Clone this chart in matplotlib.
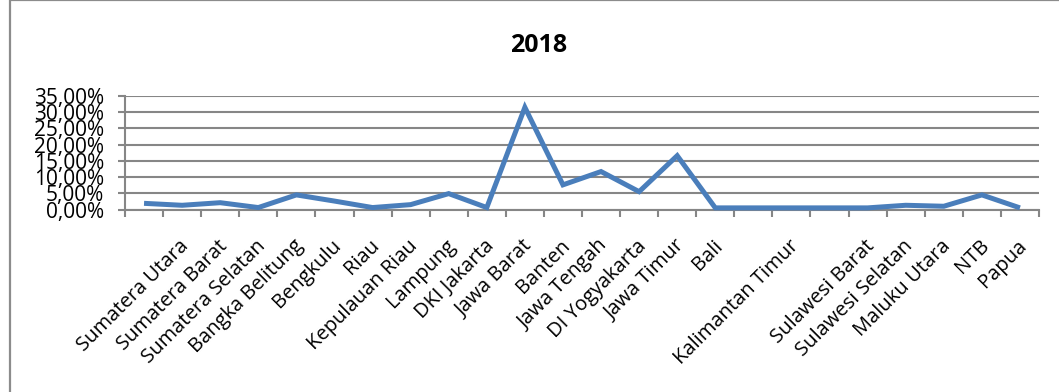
import matplotlib
matplotlib.use("Agg")
import matplotlib.pyplot as plt
import matplotlib.patches as mpatches
import matplotlib.transforms as mtransforms
from matplotlib.ticker import FixedLocator, FuncFormatter

# Provinces along the x axis (blank entries carry no printed label)
provinces = [
    "", "Sumatera Utara", "Sumatera Barat", "Sumatera Selatan",
    "Bangka Belitung", "Bengkulu", "Riau", "Kepulauan Riau", "Lampung",
    "DKI Jakarta", "Jawa Barat", "Banten", "Jawa Tengah", "DI Yogyakarta",
    "Jawa Timur", "Bali", "", "Kalimantan Timur", "", "Sulawesi Barat",
    "Sulawesi Selatan", "Maluku Utara", "NTB", "Papua",
]

# Share per province in 2018 (fractions)
share_2018 = [
    0.019, 0.013, 0.021, 0.006, 0.045, 0.026, 0.006, 0.015, 0.049,
    0.006, 0.315, 0.076, 0.117, 0.055, 0.166, 0.005, 0.005, 0.005,
    0.005, 0.005, 0.013, 0.010, 0.045, 0.005,
]

y_ticks = [0.0, 0.05, 0.10, 0.15, 0.20, 0.25, 0.30, 0.35]
title = "2018"

W, H = 1059, 392
fig = plt.figure(figsize=(W / 100, H / 100), dpi=100)
fig.patch.set_facecolor("white")

FONT = "Open Sans"
GRID = "#868686"
LINE = "#4a7ebb"

# Outer chart frame (runs off the right and bottom edges)
frame = mpatches.Rectangle((10 / W, 1 - 395 / H), 1070 / W, 395 / H,
                           transform=fig.transFigure, fill=False,
                           edgecolor="#8c8c8c", linewidth=1.6, clip_on=False)
fig.patches.append(frame)

ax = fig.add_axes([125 / W, 1 - 209.5 / H, 914 / W, 113.5 / H])
x = list(range(len(provinces)))
ax.plot(x, share_2018, color=LINE, linewidth=3.6, solid_joinstyle="miter",
        solid_capstyle="butt", zorder=3, clip_on=False)

ax.set_xlim(-0.5, len(provinces) - 0.5)
ax.set_ylim(y_ticks[0], y_ticks[-1])

# Horizontal gridlines
ax.yaxis.set_major_locator(FixedLocator(y_ticks))
ax.yaxis.set_major_formatter(
    FuncFormatter(lambda v, p: f"{v * 100:.2f}%".replace(".", ",")))
ax.grid(axis="y", color=GRID, linewidth=1.5, zorder=1)
ax.grid(axis="x", visible=False)

for side in ("top", "right"):
    ax.spines[side].set_visible(False)
for side in ("left", "bottom"):
    ax.spines[side].set_color(GRID)
    ax.spines[side].set_linewidth(1.5)

# Category labels at centres, tick marks at category boundaries
ax.set_xticks(x)
ax.set_xticklabels(provinces, rotation=45, ha="right", va="top",
                   rotation_mode="anchor", fontsize=14.5, family=FONT)
ax.set_xticks([i - 0.5 for i in range(len(provinces) + 1)], minor=True)
ax.tick_params(axis="x", which="major", length=0, pad=19)
ax.tick_params(axis="x", which="minor", length=5, width=1.5, color=GRID,
               direction="out")
ax.tick_params(axis="y", which="major", length=5, width=1.5, color=GRID,
               direction="out", pad=10, labelsize=15)
for lbl in ax.get_yticklabels():
    lbl.set_family(FONT)

shift = mtransforms.ScaledTranslation(-3 / 100, 0, fig.dpi_scale_trans)
for lbl in ax.get_xticklabels():
    lbl.set_transform(lbl.get_transform() + shift)

fig.text(539 / W, 1 - 46 / H, title, ha="center", va="center",
         fontsize=18, fontweight="bold", family=FONT)

fig.savefig("out.png", dpi=100, facecolor="white")
